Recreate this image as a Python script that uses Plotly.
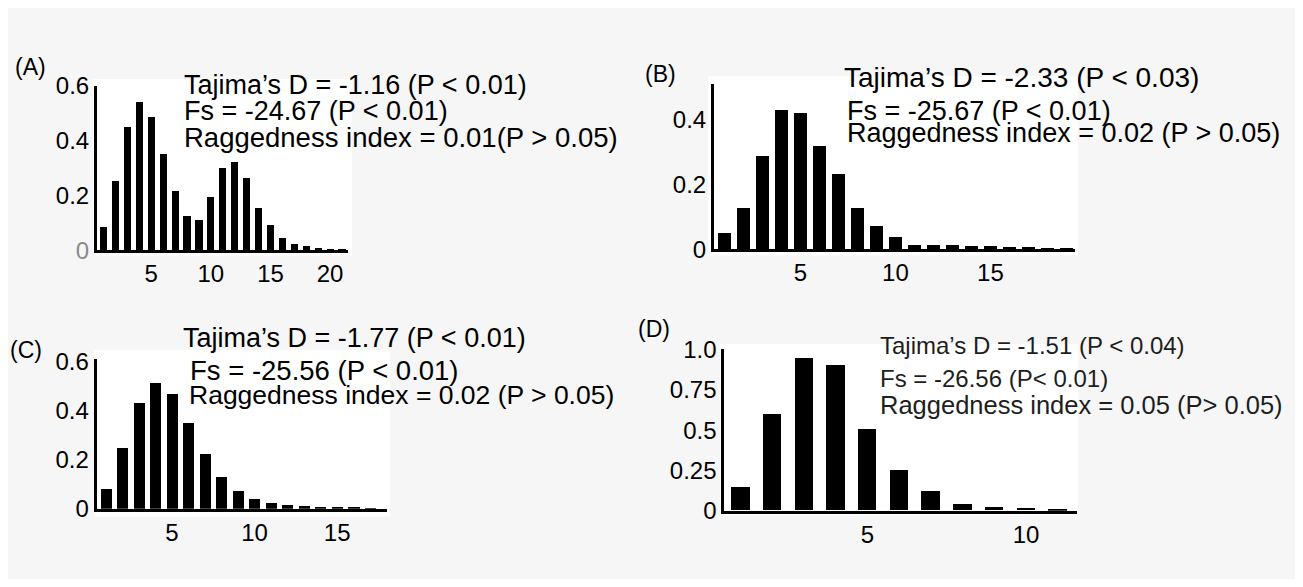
import plotly.graph_objects as go

# Page is 1303x587; the browser body has an 8px margin, so the figure is
# drawn 16px smaller and all target positions below are page pixels.
PAGE_W, PAGE_H = 1303, 587
OFF = 8
W, H = PAGE_W - 2 * OFF, PAGE_H - 2 * OFF

# ---------------- data ----------------
a_x = list(range(1, 22))
a_freq = [0.085, 0.253, 0.45, 0.54, 0.487, 0.351, 0.218, 0.127, 0.111, 0.197,
          0.302, 0.322, 0.264, 0.154, 0.092, 0.046, 0.024, 0.015, 0.009, 0.007, 0.005]

b_x = list(range(1, 20))
b_freq = [0.051, 0.127, 0.289, 0.429, 0.422, 0.319, 0.233, 0.127, 0.071, 0.037,
          0.015, 0.014, 0.013, 0.012, 0.010, 0.009, 0.007, 0.005, 0.004]

c_x = list(range(1, 18))
c_freq = [0.080, 0.248, 0.432, 0.513, 0.468, 0.349, 0.225, 0.130, 0.071, 0.040,
          0.023, 0.016, 0.012, 0.008, 0.005, 0.004, 0.003]

d_x = list(range(1, 12))
d_freq = [0.144, 0.594, 0.947, 0.899, 0.505, 0.25, 0.118, 0.041, 0.02, 0.014, 0.01]

a_yticks = [0, 0.2, 0.4, 0.6]
a_yticktext = ['<span style="color:#8a8a8a">0</span>', "0.2", "0.4", "0.6"]
b_yticks = [0, 0.2, 0.4]
b_yticktext = ["0", "0.2", "0.4"]
c_yticks = [0, 0.2, 0.4, 0.6]
c_yticktext = ["0", "0.2", "0.4", "0.6"]
d_yticks = [0, 0.25, 0.5, 0.75, 1.0]
d_yticktext = ["0", "0.25", "0.5", "0.75", "1.0"]

a_xticks = [5, 10, 15, 20]
b_xticks = [5, 10, 15]
c_xticks = [5, 10, 15]
d_xticks = [5, 10]

a_text = ["Tajima\u2019s D = -1.16 (P < 0.01)", "Fs = -24.67 (P < 0.01)",
          "Raggedness index = 0.01(P > 0.05)"]
b_text = ["Tajima\u2019s D = -2.33 (P < 0.03)", "Fs = -25.67 (P < 0.01)",
          "Raggedness index = 0.02 (P > 0.05)"]
c_text = ["Tajima\u2019s D = -1.77 (P < 0.01)", "Fs = -25.56 (P < 0.01)",
          "Raggedness index = 0.02 (P > 0.05)"]
d_text = ["Tajima\u2019s D = -1.51 (P < 0.04)", "Fs = -26.56 (P< 0.01)",
          "Raggedness index = 0.05 (P> 0.05)"]
panel_labels = ["(A)", "(B)", "(C)", "(D)"]

# ---------------- layout helpers ----------------
FONT = "Liberation Sans, Arial, Helvetica, sans-serif"


def px_x(x):
    return (x - OFF) / W


def px_y(y):
    return 1 - (y - OFF) / H


panels = [
    dict(x=a_x, y=a_freq, w=0.6, xr=[0.45, 21.5], yr=[0, 0.6], xd=(97, 348), yd=(75, 247.7),
         yt=a_yticks, ytt=a_yticktext, xt=a_xticks),
    dict(x=b_x, y=b_freq, w=0.67, xr=[0.45, 19.45], yr=[0, 0.51], xd=(714, 1075), yd=(73, 246.7),
         yt=b_yticks, ytt=b_yticktext, xt=b_xticks),
    dict(x=c_x, y=c_freq, w=0.67, xr=[0.44, 18.0], yr=[0, 0.61], xd=(96.7, 386.7), yd=(361.7, 519),
         yt=c_yticks, ytt=c_yticktext, xt=c_xticks),
    dict(x=d_x, y=d_freq, w=0.58, xr=[0.48, 11.6], yr=[0, 1.0], xd=(724.3, 1076.7), yd=(351.7, 521),
         yt=d_yticks, ytt=d_yticktext, xt=d_xticks),
]

fig = go.Figure()
layout = dict(
    width=W, height=H,
    margin=dict(l=0, r=0, t=0, b=0, pad=0),
    paper_bgcolor="#f6f6f6",
    plot_bgcolor="white",
    showlegend=False,
    bargap=0,
    font=dict(family=FONT, color="black"),
)

for i, p in enumerate(panels):
    n = "" if i == 0 else str(i + 1)
    fig.add_trace(go.Bar(x=p["x"], y=p["y"], width=p["w"], marker=dict(color="black", line=dict(width=0)),
                         xaxis="x" + n, yaxis="y" + n, hoverinfo="skip"))
    layout["xaxis" + n] = dict(
        domain=[px_x(p["xd"][0]), px_x(p["xd"][1])], range=p["xr"], anchor="y" + n,
        showline=True, linecolor="black", linewidth=3, showgrid=False, zeroline=False,
        tickvals=p["xt"], ticks="", ticklabelstandoff=0,
        tickfont=dict(size=24, family=FONT, color="black"), fixedrange=True)
    layout["yaxis" + n] = dict(
        domain=[px_y(p["yd"][1]), px_y(p["yd"][0])], range=p["yr"], anchor="x" + n,
        showline=True, linecolor="black", linewidth=3, showgrid=False, zeroline=False,
        tickvals=p["yt"], ticktext=p["ytt"], ticks="", ticklabelstandoff=0,
        tickfont=dict(size=24, family=FONT, color="black"), fixedrange=True)

# white backing rectangles
white_rects = [(93, 68, 352, 253), (708, 65, 1078, 253), (94, 352, 390, 527), (720, 346, 1078, 526)]
shapes = []
for (x0, y0, x1, y1) in white_rects:
    shapes.append(dict(type="rect", xref="paper", yref="paper", x0=px_x(x0), x1=px_x(x1),
                       y0=px_y(y1), y1=px_y(y0), fillcolor="white", line=dict(width=0), layer="below"))
layout["shapes"] = shapes

annotations = []
# (lines, positions, per-line font sizes, colour)
text_specs = [
    (a_text, [(182, 74), (182, 101), (182, 129)], [27, 27, 27.5], "black"),
    (b_text, [(842, 66), (845, 101), (845, 125)], [28, 27, 27], "black"),
    (c_text, [(181, 340), (188, 374), (187, 400)], [27, 27.5, 26.5], "black"),
    (d_text, [(878, 348), (878, 382), (878, 410)], [24, 24, 25.5], "#1e1e1e"),
]
for lines, pos, sizes, col in text_specs:
    for t, (x, y), s in zip(lines, pos, sizes):
        annotations.append(dict(text=t, xref="paper", yref="paper", x=px_x(x), y=px_y(y),
                                xanchor="left", yanchor="middle", showarrow=False,
                                font=dict(size=s, family=FONT, color=col)))
label_pos = [(30, 55), (661, 63), (26, 352), (654, 330)]
for lab, (x, y) in zip(panel_labels, label_pos):
    annotations.append(dict(text=lab, xref="paper", yref="paper", x=px_x(x), y=px_y(y),
                            xanchor="center", yanchor="middle", showarrow=False,
                            font=dict(size=23, family=FONT, color="black")))
layout["annotations"] = annotations

fig.update_layout(**layout)
fig.write_html("out.html")
